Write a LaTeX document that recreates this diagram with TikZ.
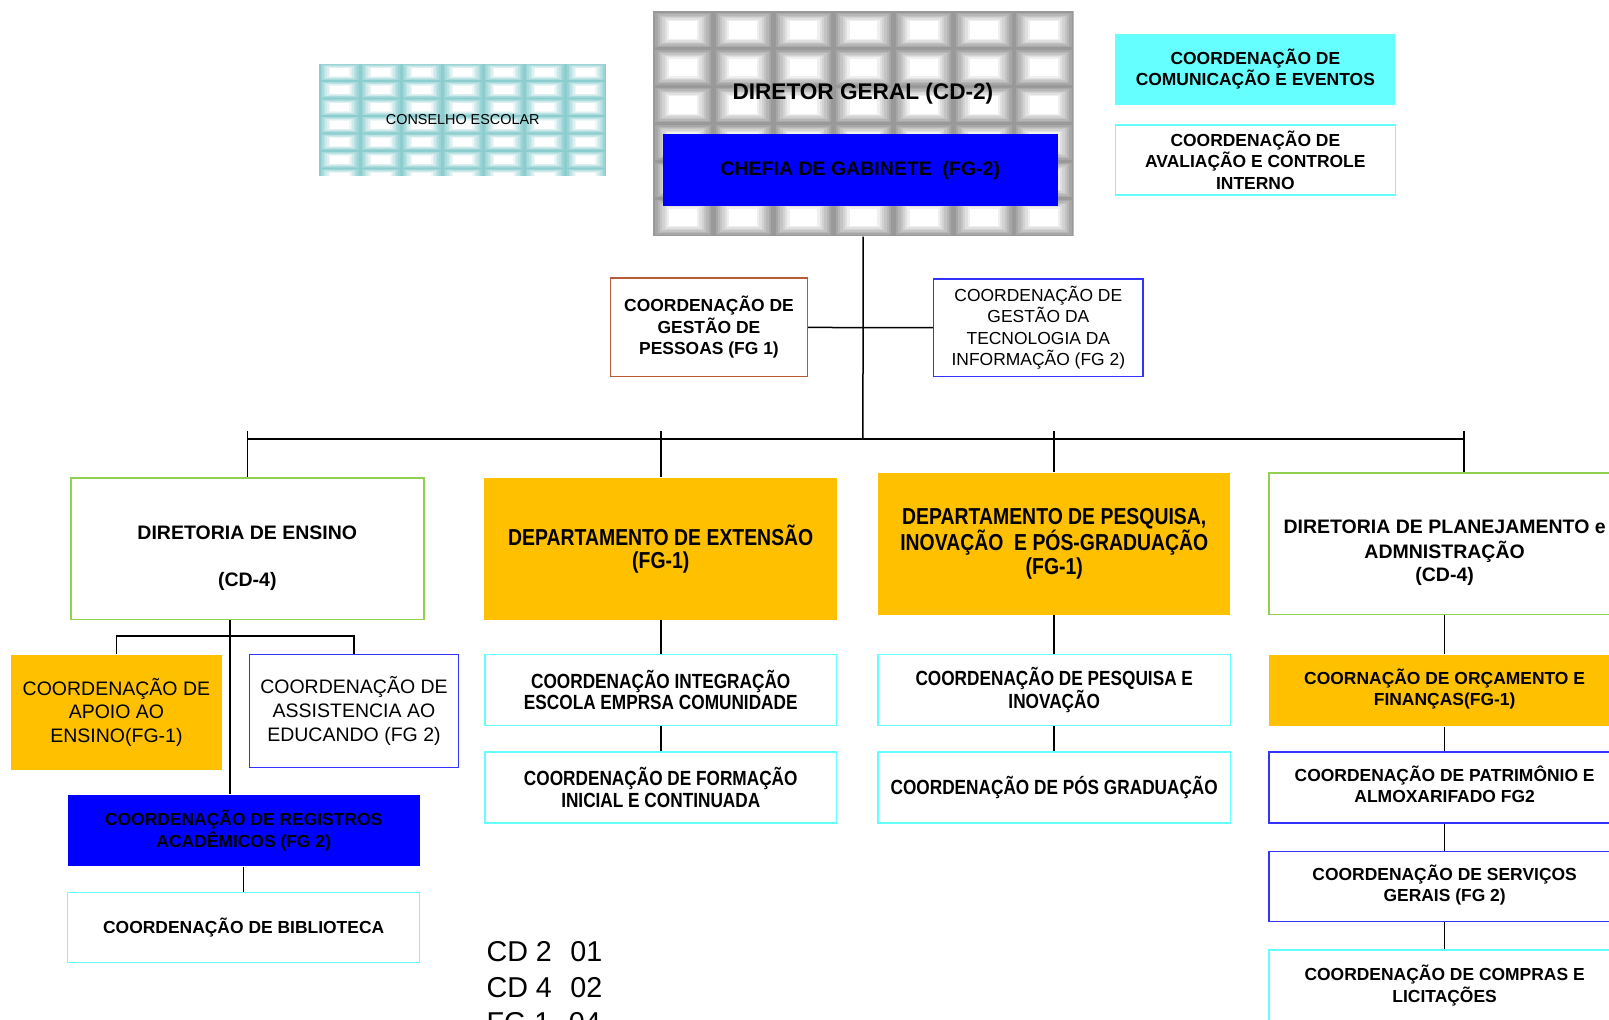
\documentclass[tikz,border=0pt]{standalone}
\usepackage{fontspec}
\setmainfont{Liberation Sans}
\newfontfamily\estreita[FakeStretch=0.84]{Liberation Sans}

\definecolor{ouro}{HTML}{FFC000}
\definecolor{ciano}{HTML}{66FFFF}
\definecolor{verde}{HTML}{92D050}
\definecolor{azul}{HTML}{0000FF}
\definecolor{azulb}{HTML}{3333FF}
\definecolor{tijolo}{HTML}{B85A33}
\definecolor{cinza}{HTML}{999999}
\definecolor{agua}{HTML}{8CCDD0}

\newcommand\bloco[2][0pt]{\raisebox{#1}[\height][\depth]{\begin{tabular}{@{}c@{}}#2\end{tabular}}}
\newcommand\coluna[2][0pt]{\bloco[#1]{#2}\hspace*{39pt}}

\tikzset{
  caixa/.style={rectangle, line width=1.5pt, align=center, inner sep=0pt},
  borda/.style={caixa, draw=#1},
  cheia/.style={caixa, fill=#1},
  tam/.style 2 args={minimum width={#1pt*1.026}, minimum height={#2pt*1.026}},
  travesseiro/.style n args={5}{path picture={
    \foreach \i in {0,...,#3} \foreach \j in {0,...,#4}
      \foreach \k/\c in {0/0,1/14,2/28,3/42,4/56,5/70,6/84,7/100}
        \fill[white!\c!#5] ([shift={(\i*#1+\k*#1/26,\j*#2+\k*#2/26)}]path picture bounding box.north west)
          rectangle ++(#1-\k*#1/13,#2-\k*#2/13);
  }},
  fnb/.style={font=\fontsize{17.45}{21.55}\selectfont\bfseries},
  fnr/.style={font=\fontsize{17.45}{21.55}\selectfont},
  fgr/.style={font=\fontsize{19.5}{23.6}\selectfont},
  fgb/.style={font=\fontsize{19.5}{23.6}\selectfont\bfseries},
  fnarrow/.style={font=\estreita\fontsize{20.5}{21.55}\selectfont\bfseries},
  fdept/.style={font=\estreita\fontsize{23.1}{23.6}\selectfont\bfseries},
  ligacao/.style={line width=1.5pt, black}
}

\begin{document}
\begin{tikzpicture}[x=1.026pt, y=-1.026pt]
\def\desvio{19.5pt}
\useasboundingbox (0,0) rectangle (1568.2,993.2);
\fill[white] (0,0) rectangle (1568.2,993.2);

% topo
\node[caixa, tam={280}{109}, travesseiro={40}{17}{6}{6}{agua}, font=\fontsize{14.4}{16}\selectfont] (conselho) at (451,116.5) {CONSELHO ESCOLAR};
\node[caixa, tam={410}{219}, travesseiro={58.6}{36.5}{6}{5}{cinza}] (dg) at (841.5,120.5) {};
\node[font=\fontsize{22.6}{26}\selectfont\bfseries] (dgtexto) at (841,91) {DIRETOR GERAL (CD-2)};
\node[cheia=azul, tam={385}{70}, fgb, text=black] (chefia) at (838.5,166) {CHEFIA DE GABINETE\ \ (FG-2)};
\node[cheia=ciano, tam={273}{69}, fnb] (comunic) at (1223.5,67.5) {COORDENAÇÃO DE\\COMUNICAÇÃO E EVENTOS};
\node[borda=ciano, tam={273}{68}, fnb] (aval) at (1223.5,156) {COORDENAÇÃO DE\\AVALIAÇÃO E CONTROLE\\INTERNO};

\node[borda=tijolo, tam={192}{96}, fnb] (pessoas) at (691,319) {COORDENAÇÃO DE\\GESTÃO DE\\PESSOAS (FG 1)};
\node[borda=azulb, tam={204}{95}, fnr] (tecno) at (1012,319.5) {COORDENAÇÃO DE\\GESTÃO DA\\TECNOLOGIA DA\\INFORMAÇÃO (FG 2)};

\coordinate (barra) at (841,428);
\coordinate (topo) at (841,420);

% diretorias e departamentos
\node[borda=verde, tam={344}{138}, fgb] (ensino) at (241,535) {\bloco[-9.2pt]{DIRETORIA DE ENSINO\\[23.6pt](CD-4)}};
\node[cheia=ouro, tam={344}{138}, fdept] (extensao) at (644,535) {DEPARTAMENTO DE EXTENSÃO\\(FG-1)};
\node[cheia=ouro, tam={343}{138}, fdept] (pesquisa) at (1027.5,530) {DEPARTAMENTO DE PESQUISA,\\INOVAÇÃO\ \ E PÓS-GRADUAÇÃO\\(FG-1)};
\node[borda=verde, tam={380}{138}, fgb] (planej) at (1427,530) {\coluna[-9.2pt]{DIRETORIA DE PLANEJAMENTO e\\ADMNISTRAÇÃO\\(CD-4)}};

% ensino
\coordinate (garfo) at (224,620);
\node[cheia=ouro, tam={205}{112}, fgr] (apoio) at (113.5,694) {COORDENAÇÃO DE\\APOIO AO\\ENSINO(FG-1)};
\node[borda=azulb, tam={204}{110}, fgr] (assist) at (345,693) {COORDENAÇÃO DE\\ASSISTENCIA AO\\EDUCANDO (FG 2)};
\node[cheia=azul, tam={343}{69}, fnb, text=black] (registros) at (237.5,809.5) {COORDENAÇÃO DE REGISTROS\\ACADÊMICOS (FG 2)};
\node[borda=ciano, tam={343}{68}, fnb] (biblio) at (237.5,904) {COORDENAÇÃO DE BIBLIOTECA};

% extensao e pesquisa
\node[borda=ciano, tam={343}{69}, fnarrow] (integra) at (644,672.5) {COORDENAÇÃO INTEGRAÇÃO\\ESCOLA EMPRSA COMUNIDADE};
\node[borda=ciano, tam={343}{69}, fnarrow] (formacao) at (644,767.5) {COORDENAÇÃO DE FORMAÇÃO\\INICIAL E CONTINUADA};
\node[borda=ciano, tam={344}{69}, fnarrow] (pesqinov) at (1027.5,672.5) {COORDENAÇÃO DE PESQUISA E\\INOVAÇÃO};
\node[borda=ciano, tam={344}{69}, fnarrow] (posgrad) at (1027.5,767.5) {COORDENAÇÃO DE PÓS GRADUAÇÃO};

% planejamento
\node[cheia=ouro, tam={380}{70}, fnb] (orcamento) at (1427,673) {\coluna{COORNAÇÃO DE ORÇAMENTO E\\FINANÇAS(FG-1)}};
\node[borda=azulb, tam={380}{69}, fnb] (patrim) at (1427,767.5) {\coluna{COORDENAÇÃO DE PATRIMÔNIO E\\ALMOXARIFADO FG2}};
\node[borda=azulb, tam={380}{68}, fnb] (servicos) at (1427,864) {\coluna{COORDENAÇÃO DE SERVIÇOS\\GERAIS (FG 2)}};
\node[borda=ciano, tam={380}{110}, fnb] (compras) at (1427,981) {\coluna[20pt]{COORDENAÇÃO DE COMPRAS E\\LICITAÇÕES}};

\node[anchor=north west, inner sep=0pt, align=left, font=\fontsize{28.7}{35.9}\selectfont] (quadro) at (474,917) {CD 2\hspace{18.5pt}01\\CD 4\hspace{18.5pt}02\\FG 1\hspace{18.5pt}04};

% ligacoes
\draw[ligacao] (dg) -- (barra);
\draw[ligacao] (pessoas) -- (tecno);
\draw[ligacao] (ensino.north |- barra) -- (planej.north |- barra);
\foreach \n in {ensino,extensao,pesquisa,planej}
  \draw[ligacao] (\n.north |- topo) -- (\n.north);
\draw[ligacao] (ensino.south -| garfo) -- (registros.north -| garfo);
\draw[ligacao] (apoio) |- (garfo) -| (assist);
\draw[ligacao] (registros) -- (biblio);
\foreach \a/\b in {extensao/integra, integra/formacao, pesquisa/pesqinov, pesqinov/posgrad}
  \draw[ligacao] (\a) -- (\b);
\foreach \a/\b in {planej/orcamento, orcamento/patrim, patrim/servicos, servicos/compras}
  \draw[ligacao] ([xshift=-\desvio]\a.south) -- ([xshift=-\desvio]\b.north);
\end{tikzpicture}
\end{document}
